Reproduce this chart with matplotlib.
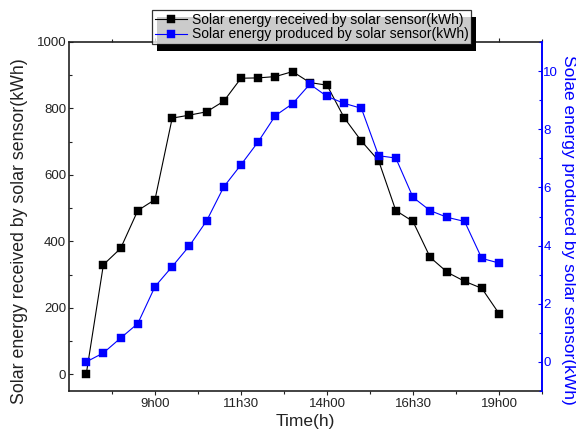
import matplotlib
matplotlib.use("Agg")
import matplotlib.pyplot as plt
from matplotlib.patches import Rectangle
from matplotlib.ticker import FixedLocator, MultipleLocator

plt.rcParams['font.family'] = ['Liberation Sans', 'DejaVu Sans']

# ---- data ----
times = ["7h00", "7h30", "8h00", "8h30", "9h00", "9h30", "10h00", "10h30",
         "11h00", "11h30", "12h00", "12h30", "13h00", "13h30", "14h00",
         "14h30", "15h00", "15h30", "16h00", "16h30", "17h00", "17h30",
         "18h00", "18h30", "19h00"]
received = [0, 330, 379, 493, 526, 771, 780, 790, 822, 891, 892, 896, 911,
            878, 870, 772, 702, 643, 493, 460, 352, 307, 280, 259, 183]
produced = [0.0, 0.31, 0.82, 1.32, 2.59, 3.28, 3.99, 4.85, 6.02, 6.78, 7.57,
            8.47, 8.88, 9.55, 9.13, 8.89, 8.72, 7.09, 7.01, 5.66, 5.20, 4.97,
            4.83, 3.56, 3.40]
tick_labels = ["9h00", "11h30", "14h00", "16h30", "19h00"]

label_received = "Solar energy received by solar sensor(kWh)"
label_produced = "Solar energy produced by solar sensor(kWh)"
ylabel_left = "Solar energy received by solar sensor(kWh)"
ylabel_right = "Solae energy produced by solar sensor(kWh)"
xlabel = "Time(h)"


def to_hours(s):
    h, m = s.split("h")
    return int(h) + int(m) / 60.0


x = [to_hours(t) for t in times]
xticks = [to_hours(t) for t in tick_labels]

BLUE = "#0000ff"
DARK = "#222222"

fig = plt.figure(figsize=(5.76, 4.30), dpi=100)
ax1 = fig.add_axes([69 / 576, 1 - 391 / 430, 473 / 576, 349 / 430])
ax2 = ax1.twinx()

l1, = ax1.plot(x, received, color="black", lw=0.8, marker="s", ms=5.5,
               mec="black", mfc="black", mew=0.3)
l2, = ax2.plot(x, produced, color=BLUE, lw=0.8, marker="s", ms=5.5,
               mec=BLUE, mfc=BLUE, mew=0.3)

ax1.set_xlim(6.5, 20.25)
ax1.set_ylim(-50, 1000)
ax2.set_ylim(-1, 11)

ax1.xaxis.set_major_locator(FixedLocator(xticks))
ax1.set_xticklabels(tick_labels)
ax1.xaxis.set_minor_locator(FixedLocator([v - 1.25 for v in xticks] + [xticks[-1] + 1.25]))
ax1.yaxis.set_major_locator(MultipleLocator(200))
ax1.yaxis.set_minor_locator(MultipleLocator(100))
ax2.yaxis.set_major_locator(MultipleLocator(2))
ax2.yaxis.set_minor_locator(MultipleLocator(1))

for sp in ["left", "bottom", "top"]:
    ax1.spines[sp].set_color(DARK)
    ax1.spines[sp].set_linewidth(1.2)
ax1.spines["right"].set_visible(False)
for sp in ["left", "bottom", "top"]:
    ax2.spines[sp].set_visible(False)
ax2.spines["right"].set_color(BLUE)
ax2.spines["right"].set_linewidth(1.4)

ax1.tick_params(axis="y", which="both", direction="in", left=True, right=False,
                labelsize=9.5, colors=DARK, pad=2)
ax1.tick_params(axis="y", which="major", length=3, width=0.8)
ax1.tick_params(axis="y", which="minor", length=2.5, width=0.8)
ax1.tick_params(axis="x", which="both", direction="out", top=True, bottom=True,
                labelsize=9.5, colors=DARK, pad=2)
ax1.tick_params(axis="x", which="major", length=3, width=0.8)
ax1.tick_params(axis="x", which="minor", length=2.5, width=0.8)
ax2.tick_params(axis="y", which="both", direction="in", colors=BLUE,
                labelsize=9.5, pad=1)
ax2.tick_params(axis="y", which="major", length=3, width=0.8)
ax2.tick_params(axis="y", which="minor", length=2.5, width=0.8)

ax1.set_xlabel(xlabel, fontsize=12.5, color=DARK, va="center")
ax1.xaxis.set_label_coords(0.5, -0.086)
ax1.set_ylabel(ylabel_left, fontsize=12.8, color=DARK, va="center")
ax1.yaxis.set_label_coords(-0.104, 0.458)
ax2.set_ylabel(ylabel_right, fontsize=12.5, color=BLUE, rotation=270, va="center")
ax2.yaxis.set_label_coords(1.055, 0.463)

leg = fig.legend([l1, l2], [label_received, label_produced],
                 loc="upper left", bbox_to_anchor=(152 / 576, 1 - 10 / 430),
                 bbox_transform=fig.transFigure, fontsize=10,
                 frameon=True, fancybox=False, shadow=False,
                 borderpad=0.2, labelspacing=0.05, handlelength=2.3,
                 handletextpad=0.35, borderaxespad=0, numpoints=1)
leg.get_frame().set_edgecolor("black")
leg.get_frame().set_linewidth(0.9)
leg.get_frame().set_facecolor("white")
leg.set_zorder(6)

fig.canvas.draw()
bb = leg.get_window_extent()
W, H = fig.bbox.width, fig.bbox.height
shadow = Rectangle(((bb.x0 + 5) / W, (bb.y0 - 6.5) / H), bb.width / W, bb.height / H,
                   transform=fig.transFigure, facecolor="black", edgecolor="none",
                   zorder=5)
fig.add_artist(shadow)

fig.savefig("out.png", dpi=100)
